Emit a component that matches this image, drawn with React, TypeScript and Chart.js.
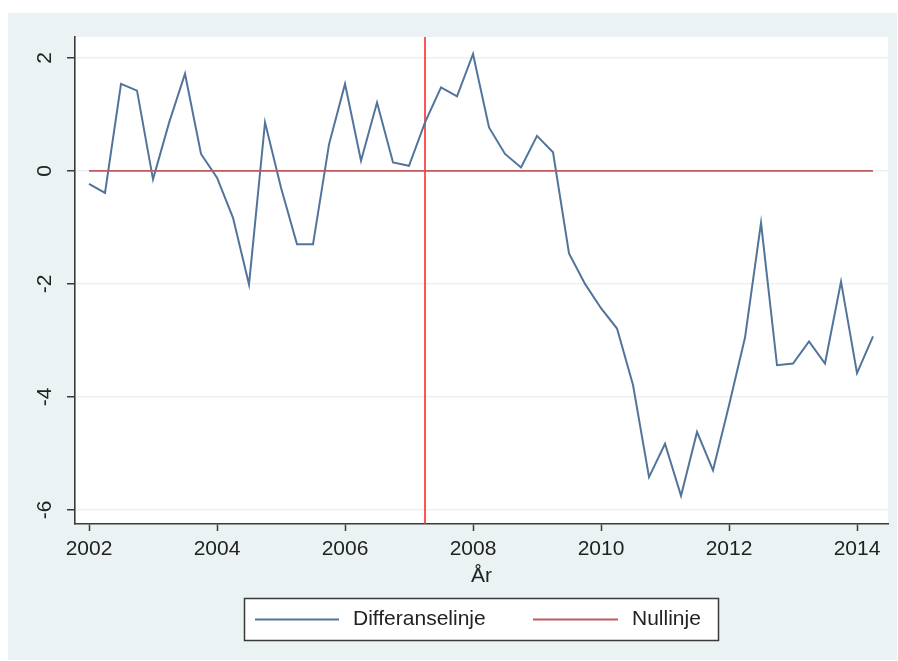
import { useEffect, useRef } from "react";
import { Chart, registerables } from "chart.js";

Chart.register(...registerables);

// Quarterly periods and the difference series
const PERIODS = [
  "2002q1", "2002q2", "2002q3", "2002q4",
  "2003q1", "2003q2", "2003q3", "2003q4",
  "2004q1", "2004q2", "2004q3", "2004q4",
  "2005q1", "2005q2", "2005q3", "2005q4",
  "2006q1", "2006q2", "2006q3", "2006q4",
  "2007q1", "2007q2", "2007q3", "2007q4",
  "2008q1", "2008q2", "2008q3", "2008q4",
  "2009q1", "2009q2", "2009q3", "2009q4",
  "2010q1", "2010q2", "2010q3", "2010q4",
  "2011q1", "2011q2", "2011q3", "2011q4",
  "2012q1", "2012q2", "2012q3", "2012q4",
  "2013q1", "2013q2", "2013q3", "2013q4",
  "2014q1", "2014q2",
];

const DIFFERANSE = [
  -0.23, -0.39, 1.54, 1.42,
  -0.15, 0.85, 1.72, 0.3,
  -0.12, -0.83, -2.01, 0.86,
  -0.3, -1.3, -1.3, 0.47,
  1.54, 0.18, 1.21, 0.15,
  0.09, 0.86, 1.48, 1.32,
  2.07, 0.77, 0.3, 0.06,
  0.62, 0.33, -1.46, -2.0,
  -2.43, -2.79, -3.79, -5.42,
  -4.83, -5.75, -4.62, -5.3,
  -4.15, -2.95, -0.92, -3.44,
  -3.41, -3.02, -3.41, -1.96,
  -3.58, -2.93,
];

const NULL_LEVEL = 0;
const XLINE_PERIOD = "2007q2";

const X_TICKS = [2002, 2004, 2006, 2008, 2010, 2012, 2014];
const Y_TICKS = [-6, -4, -2, 0, 2];
const X_RANGE = [2001.781, 2014.484];
const Y_RANGE = [-6.25, 2.37];

const X_TITLE = "År";
const SERIES_LABELS = ["Differanselinje", "Nullinje"];

const FONT = "'Liberation Sans', Arial, sans-serif";
const COLOR_DIFF = "#52749A";
const COLOR_NULL = "#BC5A60";
const COLOR_XLINE = "#FF2A2A";
const COLOR_AXIS = "#3A3A3A";
const COLOR_TEXT = "#222222";
const COLOR_OUTER = "#EAF2F3";
const COLOR_GRID = "#EAF1F3";

const periodToYear = (p: string) => {
  const [y, q] = p.split("q");
  return Number(y) + (Number(q) - 1) / 4;
};

const stataFrame = {
  id: "stataFrame",
  beforeDraw(chart: any) {
    const { ctx, chartArea: a, width, height } = chart;
    ctx.save();
    ctx.fillStyle = "#ffffff";
    ctx.fillRect(0, 0, width, height);
    ctx.fillStyle = COLOR_OUTER;
    ctx.fillRect(8, 13, 889, 647);
    ctx.fillStyle = "#ffffff";
    ctx.fillRect(a.left, a.top, a.right - a.left, a.bottom - a.top);
    ctx.restore();
  },
  beforeDatasetsDraw(chart: any) {
    // vertical reference line
    const { ctx, chartArea: a, scales } = chart;
    const x = scales.x.getPixelForValue(periodToYear(XLINE_PERIOD));
    ctx.save();
    ctx.strokeStyle = COLOR_XLINE;
    ctx.lineWidth = 1.6;
    ctx.beginPath();
    ctx.moveTo(x, a.top);
    ctx.lineTo(x, a.bottom);
    ctx.stroke();
    ctx.restore();
  },
  afterDraw(chart: any) {
    const { ctx, chartArea: a, scales } = chart;
    ctx.save();
    ctx.fillStyle = COLOR_TEXT;
    ctx.font = `21px ${FONT}`;

    // rotated y tick labels
    ctx.textAlign = "center";
    ctx.textBaseline = "middle";
    for (const v of Y_TICKS) {
      const y = scales.y.getPixelForValue(v);
      ctx.save();
      ctx.translate(45, y);
      ctx.rotate(-Math.PI / 2);
      ctx.fillText(String(v), 0, 0);
      ctx.restore();
    }

    // x axis title
    ctx.textBaseline = "alphabetic";
    ctx.fillText(X_TITLE, (a.left + a.right) / 2, 582);

    // legend
    const bx = 244.5, by = 598.5, bw = 474, bh = 42;
    ctx.fillStyle = "#ffffff";
    ctx.fillRect(bx, by, bw, bh);
    ctx.strokeStyle = COLOR_AXIS;
    ctx.lineWidth = 1.5;
    ctx.strokeRect(bx, by, bw, bh);
    const ly = by + bh / 2;
    const items = [
      { x0: 255, x1: 339, tx: 353, color: COLOR_DIFF, label: SERIES_LABELS[0] },
      { x0: 533, x1: 618, tx: 632, color: COLOR_NULL, label: SERIES_LABELS[1] },
    ];
    for (const it of items) {
      ctx.strokeStyle = it.color;
      ctx.lineWidth = 2;
      ctx.beginPath();
      ctx.moveTo(it.x0, ly);
      ctx.lineTo(it.x1, ly);
      ctx.stroke();
      ctx.fillStyle = COLOR_TEXT;
      ctx.textAlign = "left";
      ctx.textBaseline = "middle";
      ctx.fillText(it.label, it.tx, ly);
    }
    ctx.restore();
  },
};

export default function App() {
  const canvasRef = useRef<HTMLCanvasElement | null>(null);

  useEffect(() => {
    if (!canvasRef.current) return;
    const xs = PERIODS.map(periodToYear);
    const chart = new Chart(canvasRef.current, {
      type: "line",
      data: {
        datasets: [
          {
            label: SERIES_LABELS[0],
            data: xs.map((x, i) => ({ x, y: DIFFERANSE[i] })),
            borderColor: COLOR_DIFF,
            borderWidth: 2,
            pointRadius: 0,
            tension: 0,
            order: 1,
          },
          {
            label: SERIES_LABELS[1],
            data: [
              { x: xs[0], y: NULL_LEVEL },
              { x: xs[xs.length - 1], y: NULL_LEVEL },
            ],
            borderColor: COLOR_NULL,
            borderWidth: 1.8,
            pointRadius: 0,
            order: 0,
          },
        ],
      },
      options: {
        animation: false,
        responsive: true,
        maintainAspectRatio: false,
        layout: { padding: { left: 8, top: 37, right: 10, bottom: 0 } },
        plugins: {
          legend: { display: false },
          tooltip: { enabled: false },
        },
        scales: {
          x: {
            type: "linear",
            min: X_RANGE[0],
            max: X_RANGE[1],
            afterBuildTicks: (s: any) => {
              s.ticks = X_TICKS.map((v) => ({ value: v }));
            },
            afterFit: (s: any) => {
              s.height = 137;
            },
            ticks: {
              autoSkip: false,
              maxRotation: 0,
              padding: 6,
              color: COLOR_TEXT,
              font: { family: FONT, size: 21 },
              callback: (v: any) => String(v),
            },
            grid: {
              drawOnChartArea: false,
              drawTicks: true,
              tickLength: 7,
              tickColor: COLOR_AXIS,
              tickWidth: 1.5,
            },
            border: { display: true, color: COLOR_AXIS, width: 1.6 },
          },
          y: {
            type: "linear",
            min: Y_RANGE[0],
            max: Y_RANGE[1],
            afterBuildTicks: (s: any) => {
              s.ticks = Y_TICKS.map((v) => ({ value: v }));
            },
            afterFit: (s: any) => {
              s.width = 67;
            },
            ticks: { display: false },
            grid: {
              color: COLOR_GRID,
              lineWidth: 1.5,
              drawTicks: true,
              tickLength: 8,
              tickColor: COLOR_AXIS,
              tickWidth: 1.5,
            },
            border: { display: true, color: COLOR_AXIS, width: 1.6 },
          },
        },
      },
      plugins: [stataFrame],
    });
    return () => chart.destroy();
  }, []);

  return (
    <div style={{ position: "fixed", left: 0, top: 0, width: 898, height: 661 }}>
      <canvas ref={canvasRef} />
    </div>
  );
}
